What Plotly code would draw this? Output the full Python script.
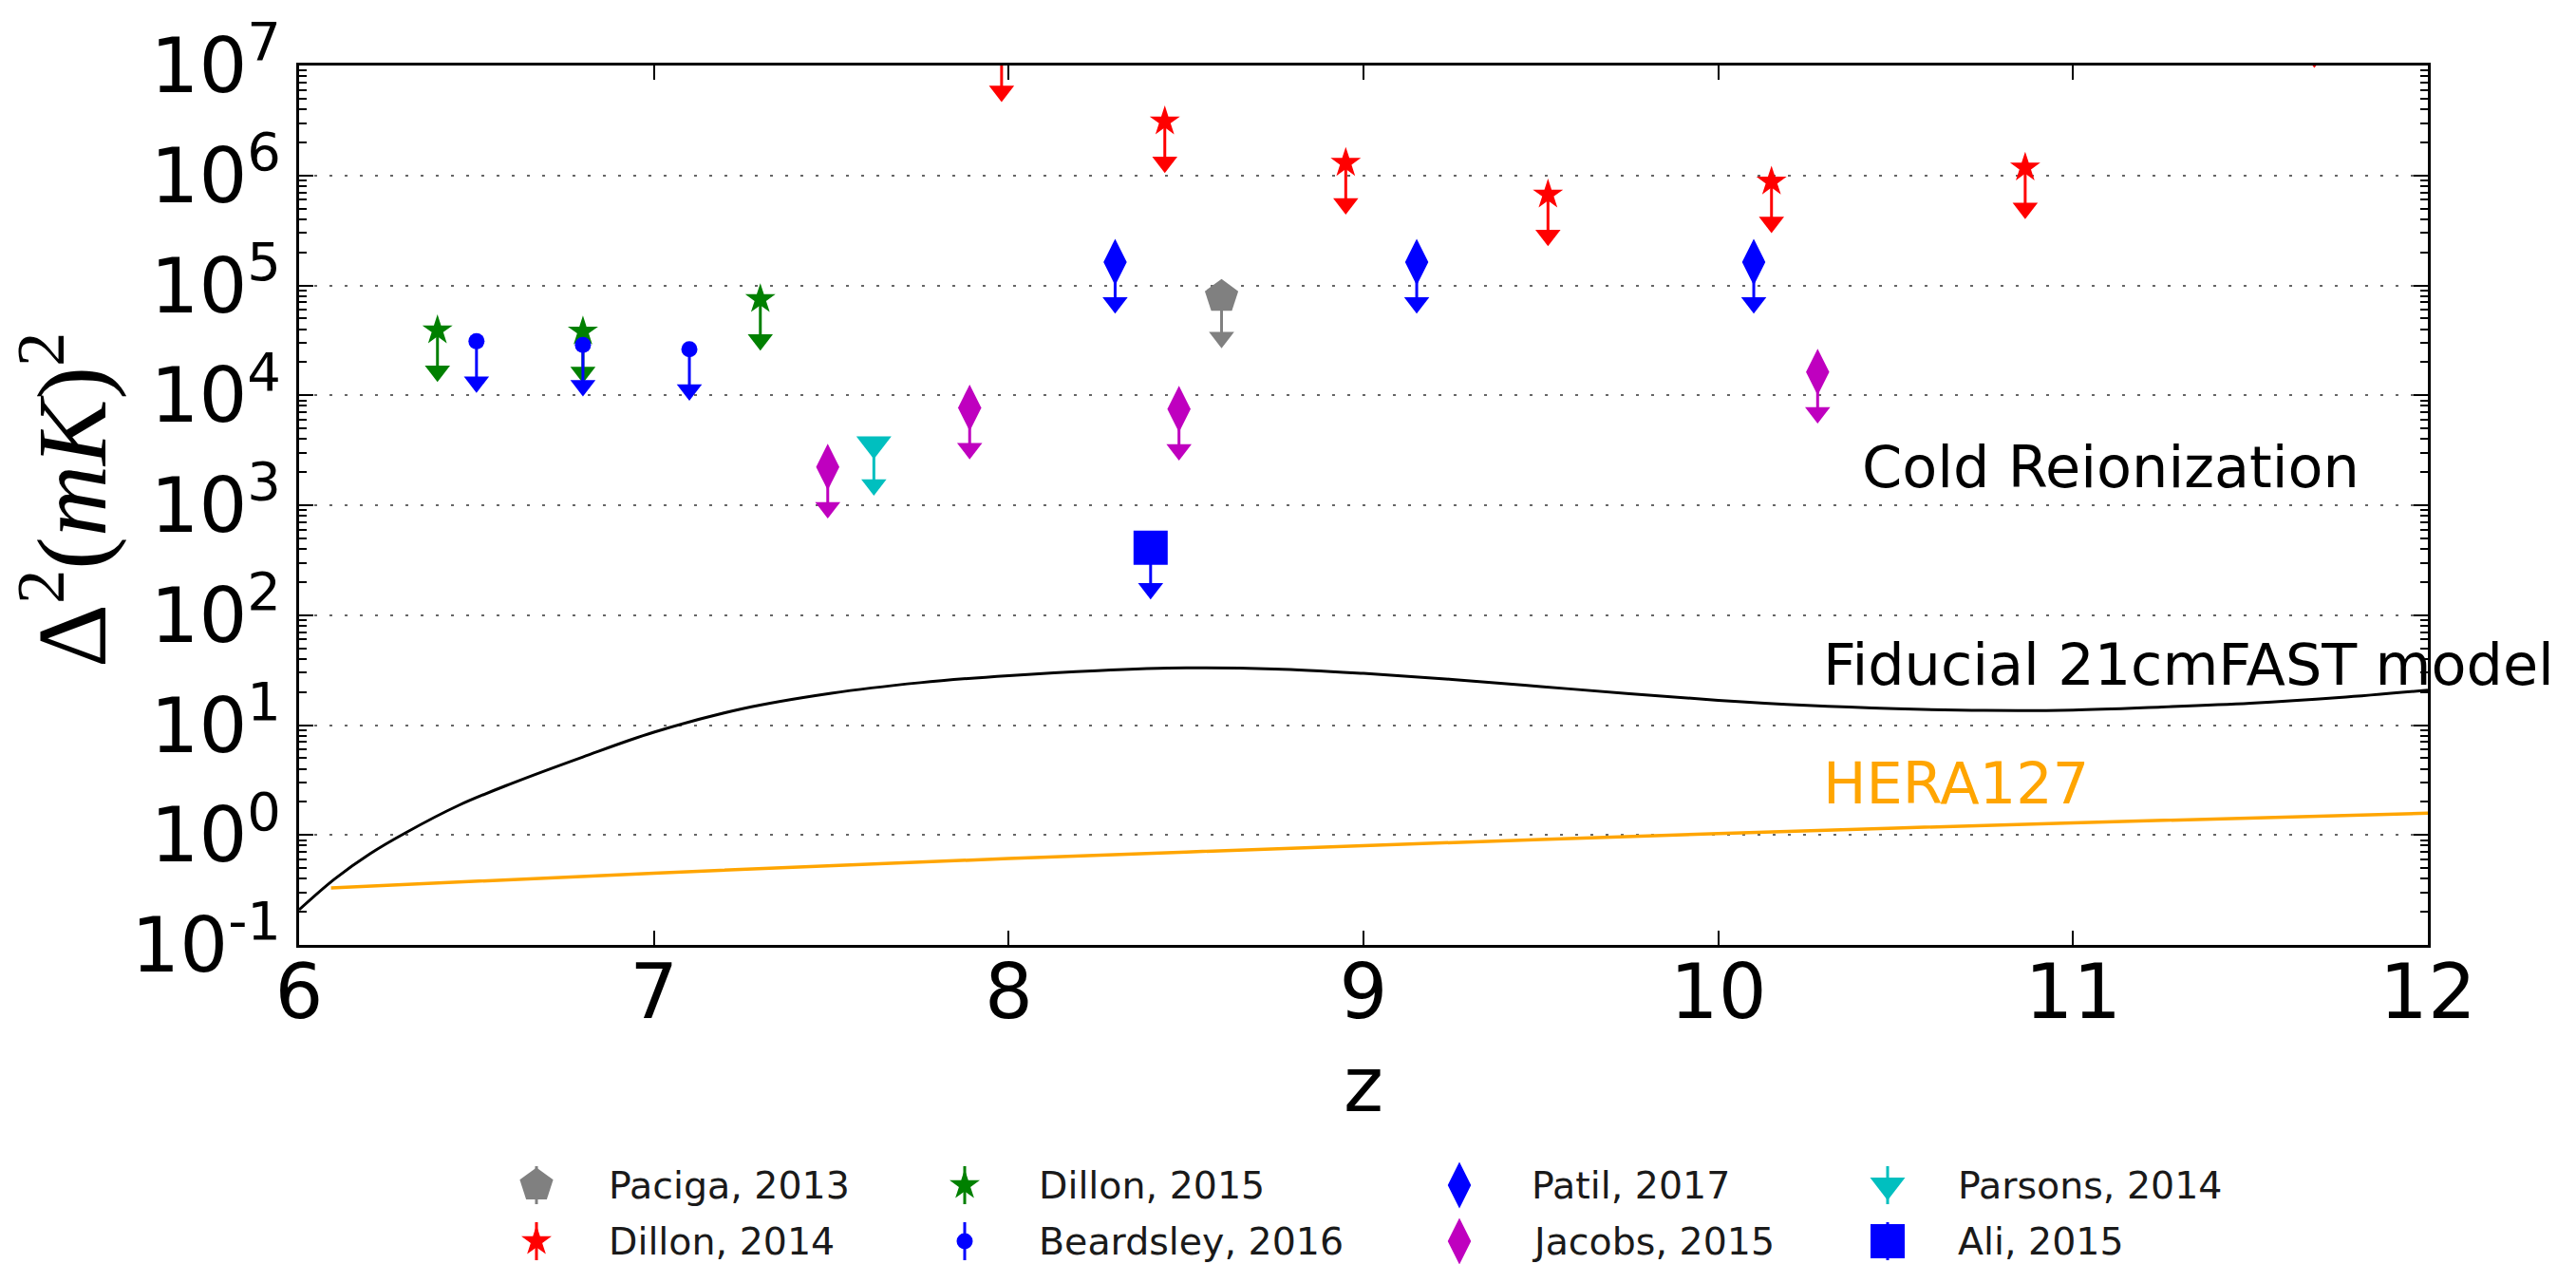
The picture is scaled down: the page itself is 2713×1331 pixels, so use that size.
import plotly.graph_objects as go

# ---------------- data ----------------
paciga_z = [8.60]
paciga_d2 = [7.9e4]

dillon14_z = [7.98, 8.44, 8.95, 9.52, 10.15, 10.865, 11.68]
dillon14_d2 = [1.37e7, 3.1e6, 1.3e6, 6.7e5, 8.8e5, 1.18e6, 2.8e7]

dillon15_z = [6.39, 6.80, 7.30]
dillon15_d2 = [3.9e4, 3.8e4, 7.5e4]

beardsley_z = [6.50, 6.80, 7.10]
beardsley_d2 = [3.1e4, 2.87e4, 2.63e4]

patil_z = [8.30, 9.15, 10.10]
patil_d2 = [1.63e5, 1.63e5, 1.63e5]

jacobs_z = [7.49, 7.89, 8.48, 10.28]
jacobs_d2 = [2.23e3, 7.7e3, 7.5e3, 1.63e4]

parsons_z = [7.62]
parsons_d2 = [3.6e3]

ali_z = [8.40]
ali_d2 = [4.1e2]

fiducial_z = [6.00, 6.10, 6.20, 6.30, 6.45, 6.60, 6.80, 7.00, 7.25, 7.50, 7.75, 8.00,
              8.25, 8.50, 8.75, 9.00, 9.25, 9.50, 9.75, 10.00, 10.25, 10.50, 10.75,
              11.00, 11.25, 11.50, 11.75, 12.00]
fiducial_d2 = [0.209, 0.398, 0.676, 1.047, 1.862, 2.951, 5.129, 8.61, 14.1, 19.5, 24.3, 28.2,
               31.3, 33.1, 32.4, 29.5, 26.0, 22.4, 19.3, 16.8, 15.1, 14.1, 13.6,
               13.7, 14.6, 15.8, 17.8, 20.8]

hera_z = [6.09, 7.0, 8.0, 9.0, 10.0, 11.0, 12.0]
hera_d2 = [0.33, 0.45, 0.61, 0.80, 1.03, 1.29, 1.58]

y_tick_exp = [-1, 0, 1, 2, 3, 4, 5, 6, 7]
x_ticks = [6, 7, 8, 9, 10, 11, 12]

# ---------------- layout constants ----------------
W, H = 2713, 1331
PL, PR, PT, PB = 315, 2557, 69, 995
ARROW_DEX = 0.37
ARROW_SIZE = 23

fig = go.Figure()

# model curves
fig.add_trace(go.Scatter(x=fiducial_z, y=fiducial_d2, mode='lines',
                         line=dict(color='black', width=3, shape='spline', smoothing=1.0),
                         hoverinfo='skip'))
fig.add_trace(go.Scatter(x=hera_z, y=hera_d2, mode='lines',
                         line=dict(color='#ffa500', width=3.5, shape='spline', smoothing=0.8),
                         hoverinfo='skip'))

series = [
    ("Paciga, 2013", paciga_z, paciga_d2, '#808080', 'pentagon', 37),
    ("Dillon, 2014", dillon14_z, dillon14_d2, '#ff0000', 'star', 24),
    ("Dillon, 2015", dillon15_z, dillon15_d2, '#008000', 'star', 24),
    ("Beardsley, 2016", beardsley_z, beardsley_d2, '#0000ff', 'circle', 17),
    ("Patil, 2017", patil_z, patil_d2, '#0000ff', 'diamond-tall', 35),
    ("Jacobs, 2015", jacobs_z, jacobs_d2, '#bf00bf', 'diamond-tall', 35),
    ("Parsons, 2014", parsons_z, parsons_d2, '#00bfbf', 'triangle-down', 32),
    ("Ali, 2015", ali_z, ali_d2, '#0000ff', 'square', 36),
]

for name, z, d2, color, sym, size in series:
    lx, ly, hy = [], [], []
    for zi, yi in zip(z, d2):
        ye = yi / 10 ** ARROW_DEX
        lx += [zi, zi, None]
        ly += [yi, ye, None]
        hy.append(ye)
    fig.add_trace(go.Scatter(x=lx, y=ly, mode='lines', line=dict(color=color, width=3),
                             hoverinfo='skip'))
    fig.add_trace(go.Scatter(x=z, y=hy, mode='markers', cliponaxis=True,
                             marker=dict(symbol='triangle-down', size=ARROW_SIZE, color=color,
                                         line=dict(width=0)), hoverinfo='skip'))
    fig.add_trace(go.Scatter(x=z, y=d2, mode='markers', cliponaxis=True, name=name,
                             marker=dict(symbol=sym, size=size, color=color, line=dict(width=0))))

# ---------------- manual legend (pixel overlay axis) ----------------
leg_marker_x = [565, 1016, 1537, 1988]
leg_text_x = [639, 1092, 1611, 2060]
leg_row_y = [1248, 1307]
annotations = []
for i, (name, z, d2, color, sym, size) in enumerate(series):
    col, row = i // 2, i % 2
    mx, my = leg_marker_x[col], leg_row_y[row]
    fig.add_trace(go.Scatter(x=[mx, mx], y=[my - 20, my + 20], mode='lines', xaxis='x2', yaxis='y2',
                             line=dict(color=color, width=3), hoverinfo='skip'))
    fig.add_trace(go.Scatter(x=[mx], y=[my], mode='markers', xaxis='x2', yaxis='y2',
                             marker=dict(symbol=sym, size=size, color=color, line=dict(width=0)),
                             hoverinfo='skip'))
    annotations.append(dict(x=leg_text_x[col], y=my, xref='x2', yref='y2', text=name,
                            showarrow=False, xanchor='left', yanchor='middle',
                            font=dict(size=39.5, family='DejaVu Sans', color='#1a1a1a')))

# in-plot labels
annotations += [
    dict(x=10.40, y=3.349, xref='x', yref='y', text='Cold Reionization', showarrow=False,
         xanchor='left', yanchor='middle', font=dict(size=60.5, family='DejaVu Sans', color='black')),
    dict(x=10.29, y=1.552, xref='x', yref='y', text='Fiducial 21cmFAST model', showarrow=False,
         xanchor='left', yanchor='middle', font=dict(size=60.5, family='DejaVu Sans', color='black')),
    dict(x=10.29, y=0.472, xref='x', yref='y', text='HERA127', showarrow=False,
         xanchor='left', yanchor='middle', font=dict(size=60.5, family='DejaVu Sans', color='#ffa500')),
    # axis titles
    dict(x=(PL + PR) / 2 / W, y=1 - 1142 / H, xref='paper', yref='paper', text='z', showarrow=False,
         xanchor='center', yanchor='middle', font=dict(size=80, family='DejaVu Sans', color='black')),
    dict(x=68 / W, y=1 - 527 / H, xref='paper', yref='paper', textangle=-90,
         text='Δ<sup>2</sup>(<i>mK</i>)<sup>2</sup>', showarrow=False,
         xanchor='center', yanchor='middle', font=dict(size=104, family='Liberation Serif', color='black')),
]

minor_vals = [k * 10 ** e for e in range(-1, 7) for k in range(2, 10)]

fig.update_layout(
    width=W, height=H, margin=dict(l=0, r=0, t=0, b=0, pad=0, autoexpand=False),
    paper_bgcolor='white', plot_bgcolor='rgba(0,0,0,0)', showlegend=False,
    font=dict(family='DejaVu Sans', color='black'),
    annotations=annotations,
    xaxis=dict(domain=[PL / W, PR / W], range=[6, 12], tickmode='array', tickvals=x_ticks,
               ticktext=[str(v) for v in x_ticks], ticks='inside', ticklen=15, tickwidth=2,
               tickcolor='black', showline=True, linecolor='black', linewidth=3, mirror='ticks',
               showgrid=False, zeroline=False, tickfont=dict(size=80, family='DejaVu Sans'),
               anchor='y', automargin=False),
    yaxis=dict(domain=[1 - PB / H, 1 - PT / H], type='log', range=[-1, 7], tickmode='array',
               tickvals=[10 ** e for e in y_tick_exp],
               ticktext=['10<sup>%d</sup>' % e for e in y_tick_exp],
               ticks='inside', ticklen=15, tickwidth=2, tickcolor='black',
               showline=True, linecolor='black', linewidth=3, mirror='ticks',
               showgrid=True, gridcolor='#666666', gridwidth=2, griddash='3px,13px',
               minor=dict(tickmode='array', tickvals=minor_vals, ticks='inside', ticklen=8,
                          tickwidth=2, tickcolor='black', showgrid=False),
               zeroline=False, tickfont=dict(size=80, family='DejaVu Sans'), anchor='x',
               automargin=False),
    xaxis2=dict(domain=[0, 1], range=[0, W], visible=False, anchor='y2', fixedrange=True,
                automargin=False),
    yaxis2=dict(domain=[0, 1], range=[H, 0], visible=False, anchor='x2', fixedrange=True,
                automargin=False),
)

# pull the x tick labels up toward the axis, as in the reference
try:
    fig.update_xaxes(ticklabelstandoff=-22, selector=dict(anchor='y'))
except ValueError:
    pass

fig.write_html("out.html")
